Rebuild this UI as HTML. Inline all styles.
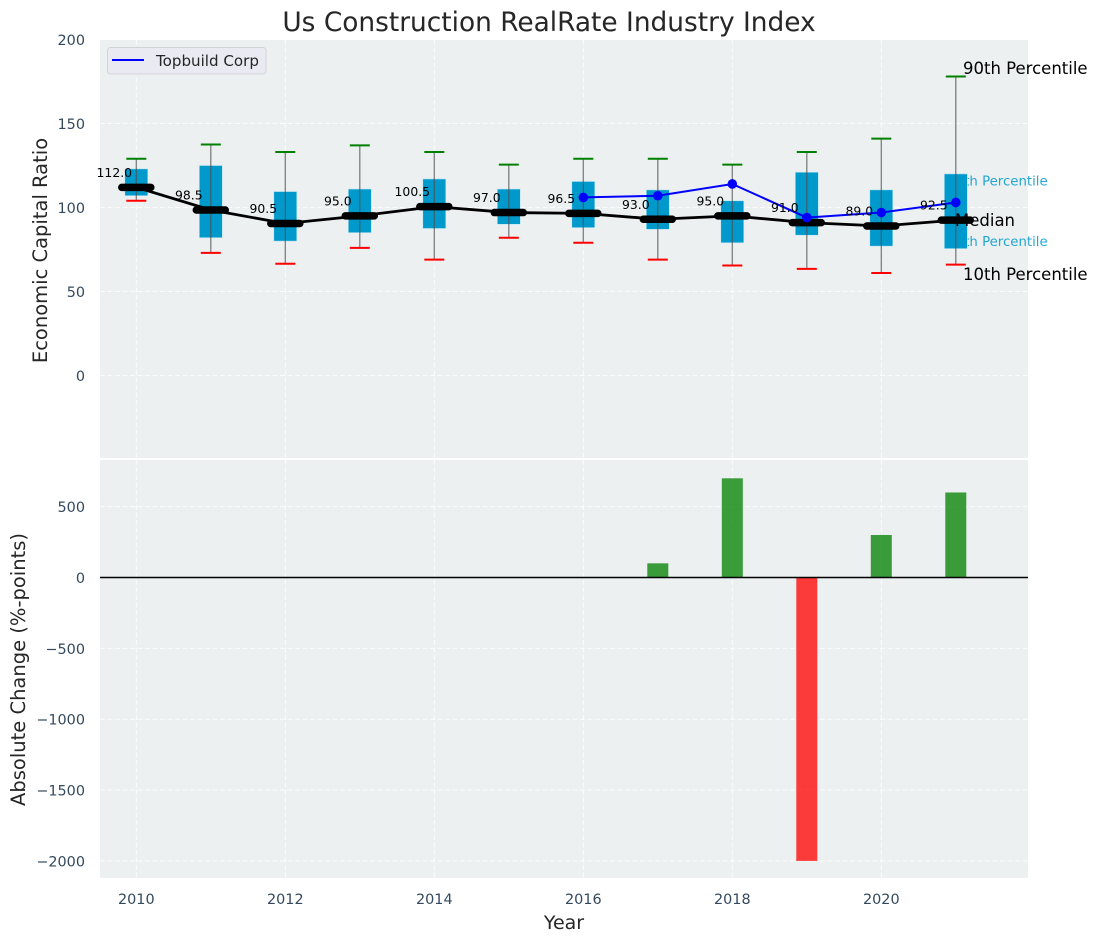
<!DOCTYPE html>
<html lang="en">
<head>
<meta charset="utf-8">
<title>Us Construction RealRate Industry Index</title>
<style>
html,body{margin:0;padding:0;background:#fff;}
svg{display:block;font-family:"DejaVu Sans","Liberation Sans",sans-serif;}
</style>
</head>
<body>
<svg id="chart" width="1098" height="942" viewBox="0 0 1098 942" xmlns="http://www.w3.org/2000/svg">
  <g id="layer-back"></g>
  <g id="layer-marks"></g>
  <g id="layer-text"></g>
</svg>
<script>
const years = [2010,2011,2012,2013,2014,2015,2016,2017,2018,2019,2020,2021];
const p90 = [129,137.5,133,137,133,125.5,129,129,125.5,133,141,178];
const p75 = [123,125,109.5,111,117,111,115.5,110.5,104,121,110.5,120];
const p25 = [107,82,80,85,87.5,90,88,87,79,83.5,77,75.5];
const p10 = [104,73,66.5,76,69,82,79,69,65.5,63.5,61,66];
const medians = [112,98.5,90.5,95,100.5,97,96.5,93,95,91,89,92.5];
const companyYears = [2016,2017,2018,2019,2020,2021];
const companyValues = [106,107,114,94,97,103];
const changeYears = [2017,2018,2019,2020,2021];
const changeValues = [100,700,-2000,300,600];
const xTicks = [2010,2012,2014,2016,2018,2020];
const topYTicks = [0,50,100,150,200];
const bottomYTicks = [-2000,-1500,-1000,-500,0,500];

const NS = 'http://www.w3.org/2000/svg';
const L = 100, R = 1028, T1 = 40, B1 = 458, T2 = 460, B2 = 878;
const xS = v => 136.3 + (v - 2010) * 74.5;
const yTop = v => 375.5 - v * 1.68;
const yBot = v => 577.5 - v * 0.1417;
const back = document.getElementById('layer-back');
const marks = document.getElementById('layer-marks');
const texts = document.getElementById('layer-text');

function mk(parent, tag, attrs, content) {
  const el = document.createElementNS(NS, tag);
  for (const k in attrs) el.setAttribute(k, attrs[k]);
  if (content !== undefined) el.textContent = content;
  parent.appendChild(el);
  return el;
}
const GRID = {stroke:'#ffffff', 'stroke-width':1, 'stroke-dasharray':'5 2.5', opacity:0.85};

let el;
el = mk(back, 'rect', {x:L, y:T1, width:R-L, height:B1-T1, fill:'#ecf0f1'});


el = mk(back, 'rect', {x:L, y:T2, width:R-L, height:B2-T2, fill:'#ecf0f1'});



xTicks.forEach(t => {
  el = mk(back, 'line', Object.assign({x1:xS(t), x2:xS(t), y1:T1, y2:B1}, GRID));
  
  
  el = mk(back, 'line', Object.assign({x1:xS(t), x2:xS(t), y1:T2, y2:B2}, GRID));
  
  
  el = mk(texts, 'text', {x:xS(t), y:904, 'text-anchor':'middle', 'font-size':14.4, fill:'#34495e'}, String(t));
  
  
});
topYTicks.forEach(t => {
  el = mk(back, 'line', Object.assign({x1:L, x2:R, y1:yTop(t), y2:yTop(t)}, GRID));
  
  
  el = mk(texts, 'text', {x:85, y:yTop(t)+5.5, 'text-anchor':'end', 'font-size':14.4, fill:'#34495e'}, String(t));
  
  
});
bottomYTicks.forEach(t => {
  el = mk(back, 'line', Object.assign({x1:L, x2:R, y1:yBot(t), y2:yBot(t)}, GRID));
  
  
  el = mk(texts, 'text', {x:85, y:yBot(t)+5.5, 'text-anchor':'end', 'font-size':14.4, fill:'#34495e'}, String(t).replace('-', '\u2212'));
  
  
});

/* percentile labels that sit beneath the last box */
const lastIdx = years.length - 1;
el = mk(marks, 'text', {x:xS(years[lastIdx])-8.5, y:yTop(p75[lastIdx])+11.5, 'font-size':13.3, fill:'#0099cc', opacity:0.85}, '75th Percentile');


el = mk(marks, 'text', {x:xS(years[lastIdx])-8.5, y:yTop(p25[lastIdx])-2.5, 'font-size':13.3, fill:'#0099cc', opacity:0.85}, '25th Percentile');



/* boxes, whiskers, caps */
years.forEach((y, i) => {
  const x = xS(y);
  el = mk(marks, 'rect', {x:x-11.5, y:yTop(p75[i]), width:23, height:yTop(p25[i])-yTop(p75[i]), fill:'#0099cc', stroke:'#bfe5f2', 'stroke-width':0.6});
  
  
  el = mk(marks, 'line', {x1:x, x2:x, y1:yTop(p90[i]), y2:yTop(p10[i]), stroke:'#4d4d4d', 'stroke-width':1.3, opacity:0.7});
  
  
  el = mk(marks, 'line', {x1:x-10, x2:x+10, y1:yTop(p90[i]), y2:yTop(p90[i]), stroke:'#008000', 'stroke-width':2});
  
  
  el = mk(marks, 'line', {x1:x-10, x2:x+10, y1:yTop(p10[i]), y2:yTop(p10[i]), stroke:'#ff0000', 'stroke-width':2});
  
  
});

/* median line and thick markers */
el = mk(marks, 'polyline', {points:years.map((y,i)=>xS(y)+','+yTop(medians[i])).join(' '), fill:'none', stroke:'#000', 'stroke-width':2.8});


years.forEach((y, i) => {
  el = mk(marks, 'line', {x1:xS(y)-14.5, x2:xS(y)+14.5, y1:yTop(medians[i]), y2:yTop(medians[i]), stroke:'#000', 'stroke-width':7.5, 'stroke-linecap':'round'});
  
  
});

/* company line */
el = mk(marks, 'polyline', {points:companyYears.map((y,i)=>xS(y)+','+yTop(companyValues[i])).join(' '), fill:'none', stroke:'#0000ff', 'stroke-width':2});


companyYears.forEach((y, i) => {
  el = mk(marks, 'circle', {cx:xS(y), cy:yTop(companyValues[i]), r:4.8, fill:'#0000ff'});
  
  
});

/* median labels */
years.forEach((y, i) => {
  el = mk(texts, 'text', {x:xS(y)-22, y:yTop(medians[i])-10.5, 'text-anchor':'middle', 'font-size':12.4, fill:'#000'}, medians[i].toFixed(1));
  
  
});

/* change bars */
changeYears.forEach((y, i) => {
  const v = changeValues[i];
  el = mk(marks, 'rect', {x:xS(y)-10.5, y:Math.min(yBot(v), yBot(0)), width:21, height:Math.abs(yBot(v)-yBot(0)), fill: v >= 0 ? '#008000' : '#ff0000', opacity:0.76});
  
  
});
el = mk(marks, 'line', {x1:L, x2:R, y1:yBot(0), y2:yBot(0), stroke:'#000', 'stroke-width':1.4});



/* annotations */
el = mk(texts, 'text', {x:963, y:74, 'font-size':16.5, fill:'#000'}, '90th Percentile');


el = mk(texts, 'text', {x:955, y:226, 'font-size':16.5, fill:'#000'}, 'Median');


el = mk(texts, 'text', {x:963, y:280, 'font-size':16.5, fill:'#000'}, '10th Percentile');



/* title and axis labels */
el = mk(texts, 'text', {x:549, y:31, 'text-anchor':'middle', 'font-size':26.4, fill:'#262626'}, 'Us Construction RealRate Industry Index');


el = mk(texts, 'text', {x:564, y:929, 'text-anchor':'middle', 'font-size':19, fill:'#262626'}, 'Year');


el = mk(texts, 'text', {x:0, y:0, transform:'translate(47,250.5) rotate(-90)', 'text-anchor':'middle', 'font-size':19.5, fill:'#262626'}, 'Economic Capital Ratio');


el = mk(texts, 'text', {x:0, y:0, transform:'translate(25,669.5) rotate(-90)', 'text-anchor':'middle', 'font-size':19.5, fill:'#262626'}, 'Absolute Change (%-points)');



/* legend */
const lg = mk(texts, 'g', {});


el = mk(lg, 'rect', {x:107.5, y:47.5, width:158.5, height:26.5, rx:3, fill:'#eaeaf2', stroke:'#d3d3d6', 'stroke-width':1});


el = mk(lg, 'line', {x1:112, x2:144, y1:60, y2:60, stroke:'#0000ff', 'stroke-width':2});


el = mk(lg, 'text', {x:156, y:66, 'font-size':15.1, fill:'#262626'}, 'Topbuild Corp');


</script>
</body>
</html>
